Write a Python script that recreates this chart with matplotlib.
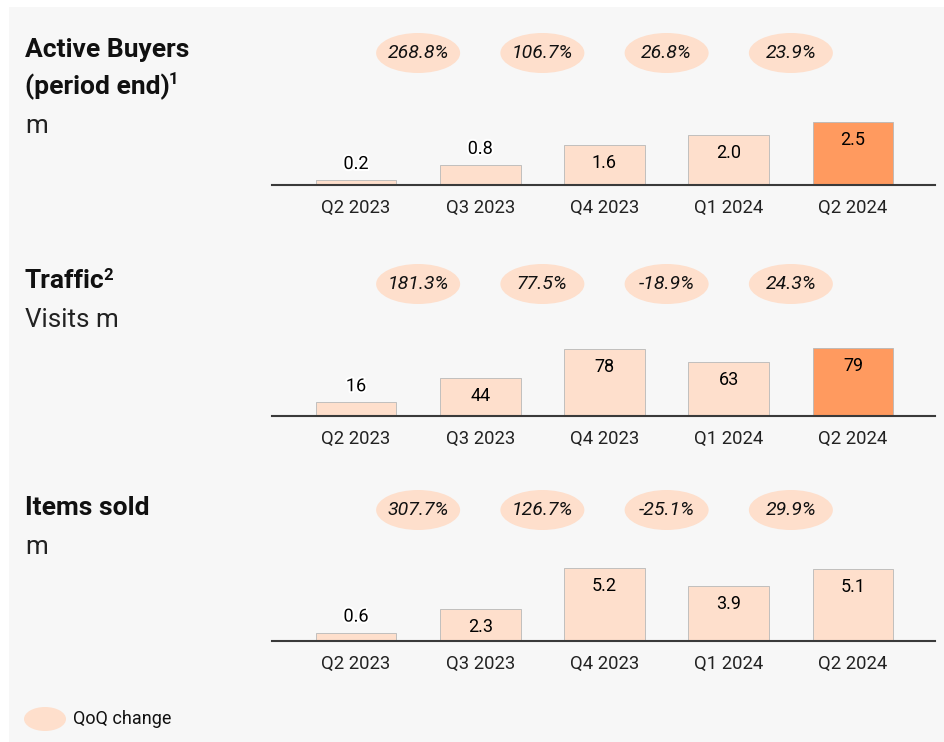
import matplotlib
matplotlib.use("Agg")
from matplotlib import pyplot as plt
from matplotlib.patches import Ellipse, Rectangle
import matplotlib.patheffects as pe

plt.rcParams['font.family'] = ['Roboto', 'DejaVu Sans']

quarters = ["Q2 2023", "Q3 2023", "Q4 2023", "Q1 2024", "Q2 2024"]

buyers = [0.2, 0.8, 1.6, 2.0, 2.5]
buyers_labels = ["0.2", "0.8", "1.6", "2.0", "2.5"]
buyers_qoq = ["268.8%", "106.7%", "26.8%", "23.9%"]

traffic = [16, 44, 78, 63, 79]
traffic_labels = ["16", "44", "78", "63", "79"]
traffic_qoq = ["181.3%", "77.5%", "-18.9%", "24.3%"]

items = [0.6, 2.3, 5.2, 3.9, 5.1]
items_labels = ["0.6", "2.3", "5.2", "3.9", "5.1"]
items_qoq = ["307.7%", "126.7%", "-25.1%", "29.9%"]

LIGHT = "#fedfcc"
DARK = "#ff9a5f"
BG = "#f7f7f7"

W, H = 945, 742
fig = plt.figure(figsize=(W / 100, H / 100), dpi=100, facecolor="white")
fig.patches.append(Rectangle((9 / W, 0), 1, 1 - 7 / H, transform=fig.transFigure,
                             facecolor=BG, edgecolor="none", zorder=-10))


def px_box(x0, y_base, x1, height):
    # pixel box (top-origin) -> figure fraction
    return [x0 / W, 1 - y_base / H, (x1 - x0) / W, height / H]


def panel(values, labels, qoq, highlight, y_base, max_px, pill_y,
          title, sup, sub, title_y):
    ax = fig.add_axes(px_box(272, y_base, 935, max_px))
    ax.set_facecolor("none")
    top = max(values)
    ax.set_ylim(0, top)
    ax.set_xlim(-0.676, 4.66)
    x = list(range(len(values)))
    colors = [DARK if (highlight and i == len(values) - 1) else LIGHT for i in x]
    bars = ax.bar(x, values, width=0.65, color=colors, edgecolor="#b8b8b8",
                  linewidth=0.6, clip_on=False, zorder=2)
    for b, v, lab in zip(bars, values, labels):
        if v / top < 0.4:
            t = ax.annotate(lab, (b.get_x() + b.get_width() / 2, v),
                            xytext=(0, 16), textcoords="offset pixels",
                            ha="center", va="center", fontsize=13, zorder=3)
            t.set_path_effects([pe.withStroke(linewidth=3, foreground="white")])
        else:
            ax.annotate(lab, (b.get_x() + b.get_width() / 2, v),
                        xytext=(0, -18), textcoords="offset pixels",
                        ha="center", va="center", fontsize=13, zorder=3)
    for s in ["top", "right", "left"]:
        ax.spines[s].set_visible(False)
    ax.spines["bottom"].set_color("#3a3a3a")
    ax.spines["bottom"].set_linewidth(1.5)
    ax.set_yticks([])
    ax.set_xticks(x)
    ax.set_xticklabels(quarters, fontsize=13.3, color="#222222")
    ax.tick_params(axis="x", length=0, pad=10)

    # QoQ pills between bars
    pax = fig.add_axes([0, 0, 1, 1], facecolor="none")
    pax.set_xlim(0, W)
    pax.set_ylim(H, 0)
    pax.axis("off")
    for i, q in enumerate(qoq):
        cx = 356 + 124.25 * (i + 0.5)
        pax.add_patch(Ellipse((cx, pill_y), 84, 40, facecolor=LIGHT, edgecolor="none"))
        pax.text(cx, pill_y, q, ha="center", va="center", fontsize=14,
                 style="italic", color="#111111")

    # titles
    y = title_y
    last = None
    for ln in title:
        last = fig.text(25 / W, 1 - y / H, ln, ha="left", va="center",
                        fontsize=19, fontweight="bold", color="#111111")
        y += 37
    fig.canvas.draw()
    bb = last.get_window_extent()
    fig.text((bb.x1 - 1) / W, (bb.y1 - 6) / H, sup, ha="left", va="center",
             fontsize=12, fontweight="bold", color="#111111")
    fig.text(25 / W, 1 - (y + 2) / H, sub, ha="left", va="center",
             fontsize=18.7, color="#222222")


panel(buyers, buyers_labels, buyers_qoq, True, 185, 63, 53,
      ["Active Buyers", "(period end)"], "1", "m", 50)
panel(traffic, traffic_labels, traffic_qoq, True, 416, 68, 284,
      ["Traffic"], "2", "Visits m", 281)
panel(items, items_labels, items_qoq, False, 641, 73, 510,
      ["Items sold"], "", "m", 508)

# legend
lax = fig.add_axes([0, 0, 1, 1], facecolor="none")
lax.set_xlim(0, W)
lax.set_ylim(H, 0)
lax.axis("off")
lax.add_patch(Ellipse((45, 719), 42, 24, facecolor=LIGHT, edgecolor="none"))
lax.text(73, 719, "QoQ change", ha="left", va="center", fontsize=13, color="#111111")

fig.savefig("out.png", dpi=100, facecolor=fig.get_facecolor())
